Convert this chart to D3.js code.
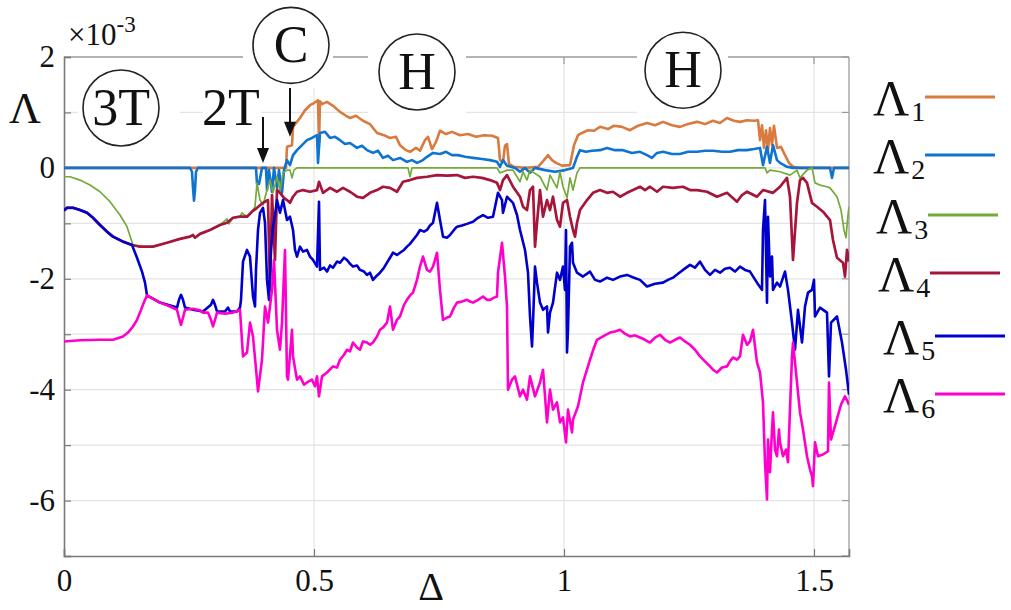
<!DOCTYPE html>
<html>
<head>
<meta charset="utf-8">
<script src="https://cdn.jsdelivr.net/npm/d3@7"></script>
<style>
  body { margin: 0; background: #fff; }
  svg { display: block; }
</style>
</head>
<body>
<div id="chart"></div>
<script>

// Lyapunov spectrum, Lambda (x 10^-3) against Delta
var L1 = [[0,0],[0.412,0],[0.444,0],[0.446,0.38],[0.456,0.41],[0.458,0.74],[0.472,0.90],[0.482,1.04],[0.492,1.13],[0.500,1.17],[0.508,1.22],[0.510,0.45],[0.512,1.20],[0.516,1.15],[0.526,1.19],[0.538,1.12],[0.552,1.01],[0.564,0.94],[0.572,0.90],[0.584,0.94],[0.598,0.85],[0.612,0.79],[0.626,0.63],[0.640,0.59],[0.652,0.54],[0.664,0.56],[0.672,0.41],[0.684,0.32],[0.692,0.29],[0.704,0.36],[0.712,0.31],[0.722,0.50],[0.728,0.56],[0.736,0.34],[0.744,0.47],[0.752,0.67],[0.764,0.61],[0.776,0.65],[0.792,0.59],[0.808,0.61],[0.824,0.56],[0.840,0.59],[0.856,0.58],[0.868,0.54],[0.872,0.14],[0.878,0.11],[0.882,0.40],[0.886,0.43],[0.890,0.07],[0.900,0.02],[0.922,0],[0.948,0.02],[0.960,0.14],[0.968,0.23],[0.976,0.14],[0.984,0.09],[0.996,0.04],[1.012,0.05],[1.020,0.41],[1.028,0.59],[1.036,0.63],[1.048,0.68],[1.060,0.67],[1.072,0.74],[1.088,0.70],[1.100,0.76],[1.116,0.74],[1.132,0.68],[1.148,0.76],[1.166,0.81],[1.182,0.77],[1.198,0.83],[1.216,0.77],[1.232,0.74],[1.248,0.79],[1.266,0.83],[1.282,0.79],[1.298,0.85],[1.312,0.81],[1.326,0.90],[1.340,0.85],[1.352,0.83],[1.366,0.86],[1.380,0.85],[1.388,0.86],[1.392,0.50],[1.396,0.77],[1.400,0.36],[1.404,0.68],[1.408,0.32],[1.412,0.72],[1.416,0.41],[1.420,0.76],[1.426,0.36],[1.434,0.38],[1.442,0.23],[1.450,0.09],[1.458,0.02],[1.472,0],[1.570,0]];

var L2 = [[0,0],[0.252,0],[0.256,-0.07],[0.258,-0.36],[0.260,-0.59],[0.262,-0.40],[0.264,-0.07],[0.268,0],[0.384,0],[0.386,-0.29],[0.390,-0.29],[0.396,0],[0.404,0],[0.406,-0.40],[0.410,-0.04],[0.416,-0.43],[0.420,0],[0.426,-0.36],[0.430,-0.04],[0.436,-0.45],[0.440,-0.04],[0.446,0.14],[0.452,0.05],[0.458,0.23],[0.466,0.32],[0.476,0.41],[0.486,0.50],[0.496,0.54],[0.506,0.59],[0.508,0.09],[0.512,0.63],[0.522,0.65],[0.532,0.54],[0.542,0.56],[0.552,0.50],[0.562,0.43],[0.572,0.45],[0.586,0.36],[0.596,0.40],[0.606,0.32],[0.618,0.27],[0.628,0.31],[0.638,0.18],[0.648,0.22],[0.658,0.14],[0.672,0.18],[0.686,0.11],[0.696,0.14],[0.706,0.09],[0.716,0.13],[0.726,0.20],[0.738,0.27],[0.752,0.25],[0.764,0.29],[0.776,0.23],[0.788,0.23],[0.802,0.20],[0.818,0.18],[0.836,0.16],[0.852,0.14],[0.866,0.11],[0.872,0.02],[0.878,0.14],[0.886,0.04],[0.902,0],[0.912,-0.07],[0.922,0],[0.932,-0.09],[0.942,0],[0.962,-0.04],[0.982,-0.07],[1.002,-0.04],[1.018,0],[1.026,0.20],[1.032,0.32],[1.044,0.29],[1.056,0.31],[1.072,0.32],[1.086,0.36],[1.102,0.32],[1.118,0.32],[1.136,0.27],[1.152,0.29],[1.166,0.23],[1.176,0.18],[1.186,0.27],[1.198,0.29],[1.216,0.25],[1.232,0.25],[1.248,0.29],[1.266,0.29],[1.282,0.31],[1.298,0.31],[1.316,0.29],[1.332,0.29],[1.348,0.32],[1.366,0.32],[1.380,0.34],[1.392,0.36],[1.398,0.05],[1.406,0.38],[1.412,0.09],[1.418,0.41],[1.426,0.14],[1.432,0.09],[1.446,0.02],[1.458,0],[1.532,0],[1.536,-0.18],[1.540,0],[1.570,0]];

var L3 = [[0,-0.16],[0.012,-0.16],[0.032,-0.22],[0.052,-0.31],[0.072,-0.43],[0.092,-0.61],[0.112,-0.85],[0.126,-1.06],[0.138,-1.39],[0.152,-1.42],[0.178,-1.42],[0.206,-1.35],[0.232,-1.28],[0.252,-1.24],[0.258,-1.21],[0.262,-1.26],[0.272,-1.19],[0.292,-1.12],[0.312,-1.03],[0.326,-0.92],[0.330,-1.01],[0.338,-0.90],[0.352,-0.88],[0.356,-0.81],[0.366,-0.88],[0.376,-0.79],[0.382,-0.70],[0.386,-0.27],[0.392,-0.58],[0.398,-0.67],[0.406,-0.40],[0.412,-0.22],[0.418,-0.45],[0.426,-0.16],[0.432,-0.40],[0.438,-0.09],[0.446,-0.04],[0.452,-0.04],[0.456,-0.18],[0.460,-0.04],[0.466,0],[0.688,0],[0.692,-0.16],[0.696,0],[0.866,0],[0.872,-0.09],[0.878,-0.07],[0.886,-0.04],[0.898,-0.04],[0.912,-0.25],[0.918,-0.07],[0.926,-0.22],[0.932,-0.04],[0.952,-0.16],[0.966,-0.40],[0.972,-0.13],[0.986,-0.36],[0.992,-0.07],[0.998,-0.34],[1.006,-0.54],[1.012,-0.18],[1.018,-0.40],[1.026,-0.09],[1.032,0],[1.402,0],[1.406,-0.09],[1.412,-0.04],[1.432,-0.07],[1.452,-0.13],[1.466,-0.04],[1.472,-0.18],[1.486,-0.04],[1.496,0],[1.502,-0.27],[1.512,-0.31],[1.526,-0.34],[1.532,-0.36],[1.546,-0.52],[1.554,-0.76],[1.560,-1.12],[1.564,-1.26],[1.568,-0.85],[1.570,-0.70]];

var L4 = [[0,-0.77],[0.006,-0.72],[0.018,-0.72],[0.032,-0.76],[0.046,-0.81],[0.058,-0.90],[0.072,-1.03],[0.086,-1.15],[0.098,-1.24],[0.118,-1.33],[0.136,-1.39],[0.152,-1.42],[0.178,-1.42],[0.206,-1.35],[0.232,-1.28],[0.252,-1.24],[0.258,-1.21],[0.262,-1.26],[0.272,-1.19],[0.292,-1.12],[0.312,-1.03],[0.326,-0.99],[0.338,-0.90],[0.352,-0.88],[0.366,-0.88],[0.376,-0.79],[0.386,-0.72],[0.398,-0.63],[0.408,-0.58],[0.412,-2.20],[0.416,-0.49],[0.422,-1.66],[0.426,-0.40],[0.432,-0.45],[0.440,-0.54],[0.446,-0.58],[0.452,-0.63],[0.458,-0.52],[0.466,-0.43],[0.478,-0.40],[0.492,-0.43],[0.506,-0.40],[0.510,-0.25],[0.518,-0.45],[0.532,-0.36],[0.546,-0.43],[0.558,-0.36],[0.572,-0.43],[0.586,-0.52],[0.598,-0.54],[0.612,-0.45],[0.626,-0.40],[0.638,-0.34],[0.652,-0.36],[0.666,-0.43],[0.678,-0.25],[0.692,-0.22],[0.706,-0.18],[0.726,-0.16],[0.746,-0.13],[0.766,-0.14],[0.786,-0.13],[0.802,-0.18],[0.818,-0.16],[0.836,-0.18],[0.852,-0.22],[0.866,-0.27],[0.872,-0.40],[0.878,-0.22],[0.886,-0.13],[0.898,-0.34],[0.912,-0.52],[0.918,-0.70],[0.926,-0.76],[0.932,-0.40],[0.938,-0.34],[0.942,-1.42],[0.946,-0.99],[0.952,-0.40],[0.958,-0.88],[0.966,-0.58],[0.972,-0.76],[0.978,-0.52],[0.986,-0.94],[0.992,-1.06],[0.998,-0.63],[1.006,-0.58],[1.012,-0.88],[1.018,-1.12],[1.022,-1.24],[1.026,-0.99],[1.032,-0.76],[1.046,-0.58],[1.058,-0.45],[1.072,-0.40],[1.086,-0.45],[1.098,-0.43],[1.112,-0.52],[1.126,-0.45],[1.138,-0.40],[1.152,-0.34],[1.162,-0.40],[1.172,-0.34],[1.186,-0.43],[1.198,-0.34],[1.218,-0.36],[1.238,-0.34],[1.252,-0.40],[1.266,-0.40],[1.286,-0.43],[1.306,-0.52],[1.326,-0.45],[1.346,-0.61],[1.356,-0.49],[1.366,-0.43],[1.386,-0.52],[1.398,-0.40],[1.418,-0.45],[1.432,-0.34],[1.446,-0.18],[1.452,-0.52],[1.458,-1.66],[1.466,-0.63],[1.472,-0.22],[1.478,-0.18],[1.486,-0.27],[1.496,-0.63],[1.506,-0.70],[1.518,-0.79],[1.532,-0.94],[1.538,-1.30],[1.546,-1.62],[1.558,-1.71],[1.562,-1.96],[1.566,-1.48],[1.570,-1.69]];

var L5 = [[0,-0.77],[0.006,-0.72],[0.018,-0.72],[0.032,-0.76],[0.046,-0.81],[0.058,-0.90],[0.072,-1.03],[0.086,-1.15],[0.098,-1.24],[0.118,-1.33],[0.136,-1.39],[0.146,-1.62],[0.156,-1.87],[0.162,-2.07],[0.166,-2.30],[0.192,-2.43],[0.226,-2.52],[0.230,-2.38],[0.234,-2.29],[0.238,-2.38],[0.242,-2.52],[0.258,-2.56],[0.278,-2.59],[0.294,-2.47],[0.298,-2.38],[0.302,-2.47],[0.306,-2.59],[0.322,-2.59],[0.328,-2.52],[0.332,-2.59],[0.346,-2.59],[0.352,-2.52],[0.354,-2.38],[0.358,-1.69],[0.366,-1.48],[0.372,-1.60],[0.378,-2.32],[0.382,-2.50],[0.384,-1.84],[0.388,-1.12],[0.392,-0.81],[0.398,-0.72],[0.402,-0.99],[0.406,-2.02],[0.410,-2.38],[0.414,-1.48],[0.418,-1.06],[0.422,-0.85],[0.426,-0.58],[0.432,-0.81],[0.438,-0.58],[0.446,-0.94],[0.452,-0.88],[0.458,-1.12],[0.462,-1.48],[0.466,-1.60],[0.472,-1.42],[0.478,-1.51],[0.486,-1.48],[0.492,-1.60],[0.498,-1.66],[0.506,-1.78],[0.510,-0.61],[0.512,-1.84],[0.520,-1.80],[0.526,-1.87],[0.532,-1.76],[0.538,-1.80],[0.546,-1.69],[0.552,-1.71],[0.560,-1.62],[0.566,-1.66],[0.572,-1.73],[0.578,-1.78],[0.586,-1.76],[0.592,-1.84],[0.600,-1.87],[0.606,-1.93],[0.612,-1.89],[0.618,-2.02],[0.626,-1.94],[0.632,-1.89],[0.640,-1.80],[0.646,-1.71],[0.652,-1.62],[0.658,-1.53],[0.666,-1.57],[0.672,-1.53],[0.680,-1.48],[0.686,-1.42],[0.692,-1.37],[0.698,-1.30],[0.706,-1.21],[0.712,-1.12],[0.720,-1.15],[0.726,-1.12],[0.732,-1.04],[0.738,-0.99],[0.746,-0.63],[0.752,-0.94],[0.758,-1.24],[0.766,-1.26],[0.772,-1.21],[0.780,-1.12],[0.786,-1.06],[0.796,-1.04],[0.806,-1.01],[0.818,-0.97],[0.828,-0.90],[0.838,-0.85],[0.848,-0.90],[0.858,-0.88],[0.868,-0.45],[0.876,-0.58],[0.878,-0.81],[0.886,-0.52],[0.898,-0.63],[0.906,-0.85],[0.912,-1.12],[0.922,-1.48],[0.928,-1.89],[0.932,-2.68],[0.936,-3.22],[0.938,-2.79],[0.942,-1.78],[0.946,-2.07],[0.952,-2.43],[0.958,-2.56],[0.966,-2.50],[0.968,-2.97],[0.972,-2.61],[0.978,-2.43],[0.986,-1.89],[0.992,-2.02],[0.998,-1.78],[1.002,-2.20],[1.004,-1.12],[1.006,-3.33],[1.008,-2.92],[1.012,-1.42],[1.016,-1.35],[1.018,-1.71],[1.026,-1.89],[1.038,-1.96],[1.052,-1.87],[1.062,-2.02],[1.072,-2.05],[1.086,-1.98],[1.098,-2.02],[1.112,-1.96],[1.126,-1.93],[1.140,-1.98],[1.152,-2.02],[1.166,-2.14],[1.182,-2.09],[1.198,-2.07],[1.208,-2.02],[1.218,-1.98],[1.228,-1.91],[1.238,-1.84],[1.252,-1.75],[1.262,-1.80],[1.272,-1.69],[1.282,-1.84],[1.292,-1.93],[1.302,-1.84],[1.312,-1.89],[1.322,-1.82],[1.332,-1.80],[1.342,-1.87],[1.352,-1.78],[1.362,-1.84],[1.372,-1.87],[1.386,-2.07],[1.396,-2.20],[1.398,-1.12],[1.402,-0.58],[1.406,-2.43],[1.408,-0.88],[1.412,-1.96],[1.416,-1.60],[1.418,-2.20],[1.426,-2.07],[1.432,-2.14],[1.442,-1.87],[1.448,-2.20],[1.456,-2.79],[1.462,-3.28],[1.468,-2.56],[1.476,-3.15],[1.482,-2.50],[1.488,-2.25],[1.496,-2.20],[1.500,-2.02],[1.502,-2.68],[1.512,-2.52],[1.526,-2.61],[1.530,-3.76],[1.534,-2.79],[1.546,-2.68],[1.556,-3.15],[1.564,-3.64],[1.570,-4.09]];

var L6 = [[0,-3.13],[0.032,-3.11],[0.072,-3.10],[0.098,-3.10],[0.118,-3.04],[0.128,-2.97],[0.138,-2.86],[0.146,-2.74],[0.152,-2.61],[0.158,-2.47],[0.162,-2.38],[0.166,-2.30],[0.192,-2.43],[0.212,-2.50],[0.226,-2.56],[0.230,-2.70],[0.234,-2.83],[0.238,-2.70],[0.242,-2.56],[0.258,-2.54],[0.272,-2.57],[0.278,-2.61],[0.288,-2.61],[0.294,-2.74],[0.298,-2.86],[0.302,-2.74],[0.306,-2.61],[0.322,-2.63],[0.338,-2.61],[0.352,-2.56],[0.358,-3.40],[0.366,-3.33],[0.372,-2.79],[0.378,-3.04],[0.386,-3.82],[0.388,-4.03],[0.396,-3.46],[0.402,-2.50],[0.408,-2.79],[0.416,-2.20],[0.420,-1.66],[0.426,-2.92],[0.432,-3.28],[0.436,-2.79],[0.442,-1.48],[0.446,-3.76],[0.448,-3.82],[0.456,-2.92],[0.458,-3.40],[0.466,-3.82],[0.472,-3.76],[0.480,-3.91],[0.486,-3.87],[0.496,-3.82],[0.502,-3.94],[0.506,-3.76],[0.510,-4.12],[0.516,-3.76],[0.526,-3.69],[0.538,-3.58],[0.546,-3.60],[0.552,-3.46],[0.560,-3.37],[0.566,-3.28],[0.572,-3.31],[0.578,-3.15],[0.586,-3.24],[0.592,-3.28],[0.598,-3.13],[0.606,-3.15],[0.612,-3.19],[0.618,-3.15],[0.626,-3.04],[0.632,-2.92],[0.638,-2.88],[0.646,-2.79],[0.652,-2.50],[0.658,-2.92],[0.666,-2.74],[0.672,-2.68],[0.680,-2.47],[0.686,-2.38],[0.692,-2.30],[0.698,-2.25],[0.706,-2.02],[0.712,-1.78],[0.718,-1.60],[0.726,-1.84],[0.732,-1.87],[0.738,-1.78],[0.742,-1.66],[0.746,-1.53],[0.752,-2.20],[0.758,-2.74],[0.766,-2.70],[0.772,-2.68],[0.780,-2.52],[0.786,-2.43],[0.796,-2.41],[0.806,-2.38],[0.812,-2.41],[0.818,-2.43],[0.828,-2.38],[0.838,-2.32],[0.846,-2.38],[0.852,-2.38],[0.860,-2.34],[0.866,-2.32],[0.868,-1.89],[0.876,-1.35],[0.882,-1.96],[0.886,-2.50],[0.888,-4.00],[0.896,-3.82],[0.902,-3.76],[0.912,-4.12],[0.918,-4.00],[0.926,-4.18],[0.932,-3.76],[0.942,-4.12],[0.952,-3.87],[0.958,-3.64],[0.966,-4.59],[0.972,-4.00],[0.978,-4.36],[0.986,-4.23],[0.992,-4.59],[0.998,-4.50],[1.004,-4.95],[1.008,-4.36],[1.016,-4.77],[1.018,-4.54],[1.028,-4.30],[1.038,-3.87],[1.046,-3.64],[1.052,-3.46],[1.060,-3.24],[1.066,-3.10],[1.078,-3.04],[1.092,-2.97],[1.102,-2.95],[1.112,-2.92],[1.122,-2.99],[1.132,-3.04],[1.142,-3.02],[1.152,-3.06],[1.162,-3.10],[1.172,-3.15],[1.182,-3.06],[1.192,-3.01],[1.202,-3.10],[1.212,-3.15],[1.222,-3.10],[1.232,-3.06],[1.242,-3.13],[1.252,-3.19],[1.262,-3.28],[1.272,-3.40],[1.282,-3.49],[1.292,-3.58],[1.298,-3.64],[1.306,-3.69],[1.316,-3.60],[1.326,-3.58],[1.332,-3.49],[1.338,-3.42],[1.346,-3.46],[1.352,-3.40],[1.358,-3.01],[1.366,-3.19],[1.372,-3.13],[1.378,-2.92],[1.386,-3.51],[1.392,-3.69],[1.398,-4.23],[1.402,-5.31],[1.406,-5.98],[1.408,-4.90],[1.412,-5.49],[1.416,-4.72],[1.418,-4.41],[1.422,-5.08],[1.426,-5.20],[1.430,-4.72],[1.432,-4.95],[1.438,-5.20],[1.444,-5.08],[1.448,-5.31],[1.456,-3.40],[1.458,-3.15],[1.466,-3.87],[1.472,-4.41],[1.478,-4.72],[1.486,-5.20],[1.492,-5.44],[1.496,-5.56],[1.498,-5.74],[1.502,-4.95],[1.508,-5.20],[1.518,-5.17],[1.528,-5.11],[1.530,-3.87],[1.534,-4.90],[1.544,-4.59],[1.554,-4.27],[1.562,-4.12],[1.568,-4.23],[1.570,-4.27]];

var yTicks = [-7, -6, -5, -4, -3, -2, -1, 0, 1, 2];
var yLabels = [-6, -4, -2, 0, 2];
var xTicks = [0, 0.5, 1, 1.5];
var xLabels = ["0", "0.5", "1", "1.5"];
var subs = ["1", "2", "3", "4", "5", "6"];
var colors = ["#d97a3e", "#0f74d0", "#74aa3a", "#a5163a", "#0000cd", "#ff00cc"];
var widths = [2.6, 2.6, 1.7, 2.7, 2.6, 2.6];

// regime labels: [text, Delta, Lambda] (circle centres)
var regimes = [["3T", 0.114, 1.08], ["C", 0.454, 2.21], ["H", 0.706, 1.73], ["H", 1.238, 1.76]];

// a single family: a fallback list picks a sans face here
var FONT = "'Liberation Serif'";
var width = 1011, height = 610;
var margin = {left: 64, right: 162, top: 57, bottom: 54};

var x = d3.scaleLinear().domain([0, 1.57]).range([margin.left, width - margin.right]);
var y = d3.scaleLinear().domain([-7, 2]).range([height - margin.bottom, margin.top]);

var svg = d3.select("#chart").append("svg")
    .attr("width", width)
    .attr("height", height);

svg.append("defs").append("clipPath").attr("id", "plot")
  .append("rect")
    .attr("x", x(0)).attr("y", y(2))
    .attr("width", x(1.57) - x(0)).attr("height", y(-7) - y(2));

// grid
svg.append("g").selectAll("line")
    .data(yTicks.slice(1, -1))
  .enter().append("line")
    .attr("x1", x(0)).attr("x2", x(1.57))
    .attr("y1", function(d) { return y(d); })
    .attr("y2", function(d) { return y(d); })
    .attr("stroke", "#e4e4e4").attr("stroke-width", 1.2);

svg.append("g").selectAll("line")
    .data(xTicks.slice(1))
  .enter().append("line")
    .attr("x1", function(d) { return x(d); })
    .attr("x2", function(d) { return x(d); })
    .attr("y1", y(2)).attr("y2", y(-7))
    .attr("stroke", "#e4e4e4").attr("stroke-width", 1.2);

// box: top and right first, lighter
svg.append("line")
    .attr("x1", x(0)).attr("x2", x(1.57)).attr("y1", y(2)).attr("y2", y(2))
    .attr("stroke", "#9a9a9a").attr("stroke-width", 1.3);
svg.append("line")
    .attr("x1", x(1.57)).attr("x2", x(1.57)).attr("y1", y(2)).attr("y2", y(-7))
    .attr("stroke", "#9a9a9a").attr("stroke-width", 1.3);

svg.append("g").selectAll("line")
    .data(yTicks)
  .enter().append("line")
    .attr("x1", x(1.57)).attr("x2", x(1.57) - 7)
    .attr("y1", function(d) { return y(d); })
    .attr("y2", function(d) { return y(d); })
    .attr("stroke", "#9a9a9a").attr("stroke-width", 1.2);

svg.append("g").selectAll("line")
    .data(xTicks.slice(1))
  .enter().append("line")
    .attr("x1", function(d) { return x(d); })
    .attr("x2", function(d) { return x(d); })
    .attr("y1", y(2)).attr("y2", y(2) + 7)
    .attr("stroke", "#9a9a9a").attr("stroke-width", 1.2);

var yAxis = svg.append("g")
    .attr("transform", "translate(" + x(0) + ",0)")
    .call(d3.axisLeft(y)
      .tickValues(yTicks)
      .tickSize(-7)
      .tickPadding(9)
      .tickFormat(function(d) { return yLabels.indexOf(d) >= 0 ? String(d) : ""; }));

var xAxis = svg.append("g")
    .attr("transform", "translate(0," + y(-7) + ")")
    .call(d3.axisBottom(x)
      .tickValues(xTicks)
      .tickSize(-7)
      .tickPadding(13)
      .tickFormat(function(d, i) { return xLabels[i]; }));

[yAxis, xAxis].forEach(function(g) {
  g.attr("font-family", FONT).attr("font-size", 31);
  g.select(".domain").attr("stroke", "#7a7a7a").attr("stroke-width", 1.6);
  g.selectAll(".tick line").attr("stroke", "#7a7a7a").attr("stroke-width", 1.2);
  g.selectAll(".tick text")
      .attr("fill", "#111")
      .style("font-family", FONT)
      .style("font-size", "31px");
});

// white patches behind the regime labels
var patches = [[78, 62, 102, 92], [243, 0, 90, 88], [368, 28, 98, 88], [637, 25, 91, 91], [203, 86, 58, 44]];
svg.append("g").selectAll("rect")
    .data(patches)
  .enter().append("rect")
    .attr("x", function(d) { return d[0]; })
    .attr("y", function(d) { return d[1]; })
    .attr("width", function(d) { return d[2]; })
    .attr("height", function(d) { return d[3]; })
    .attr("fill", "#fff");

// curves
var line = d3.line()
    .x(function(d) { return x(d[0]); })
    .y(function(d) { return y(d[1]); });

var curves = svg.append("g").attr("clip-path", "url(#plot)");
[L1, L2, L3, L4, L5, L6].forEach(function(data, i) {
  curves.append("path")
      .datum(data)
      .attr("fill", "none")
      .attr("stroke", colors[i])
      .attr("stroke-width", widths[i])
      .attr("stroke-linejoin", "round")
      .attr("d", line);
});

// regime circles
var reg = svg.append("g").selectAll("g")
    .data(regimes)
  .enter().append("g")
    .attr("transform", function(d) { return "translate(" + x(d[1]) + "," + y(d[2]) + ")"; });

reg.append("circle")
    .attr("r", 38)
    .attr("fill", "#fff")
    .attr("stroke", "#222")
    .attr("stroke-width", 1.6);

reg.append("text")
    .attr("text-anchor", "middle")
    .attr("y", 17)
    .style("font-family", FONT)
    .style("font-size", "52px")
    .attr("fill", "#111")
    .text(function(d) { return d[0]; });

svg.append("text")
    .attr("x", 202).attr("y", 125)
    .style("font-family", FONT)
    .style("font-size", "52px")
    .attr("fill", "#111")
    .text("2T");

// arrows to the 2T and C onsets
var arrows = [[0.398, 0.92, 0.09], [0.452, 1.44, 0.56]];
arrows.forEach(function(a) {
  var ax = x(a[0]), y0 = y(a[1]), y1 = y(a[2]);
  svg.append("line")
      .attr("x1", ax).attr("x2", ax)
      .attr("y1", y0).attr("y2", y1 - 10)
      .attr("stroke", "#111").attr("stroke-width", 2);
  svg.append("path")
      .attr("d", "M" + (ax - 6) + "," + (y1 - 15) + "L" + (ax + 6) + "," + (y1 - 15) + "L" + ax + "," + y1 + "Z")
      .attr("fill", "#111");
});

// axis labels
svg.append("text")
    .attr("x", 9).attr("y", 123)
    .style("font-family", FONT)
    .style("font-size", "44px")
    .attr("fill", "#111")
    .text("Λ");

svg.append("text")
    .attr("x", 431).attr("y", 600)
    .attr("text-anchor", "middle")
    .style("font-family", FONT)
    .style("font-size", "40px")
    .attr("fill", "#111")
    .text("Δ");

var expo = svg.append("text")
    .attr("x", 68).attr("y", 45)
    .style("font-family", FONT)
    .attr("fill", "#111");
expo.append("tspan").style("font-size", "31px").text("×10");
expo.append("tspan").attr("dy", -13).style("font-size", "23px").text("-3");

// legend
var legY = [97, 155, 215, 273, 336, 394];
var legX = [873, 873, 876, 878, 883, 883];
var leg = svg.append("g").selectAll("g")
    .data(subs)
  .enter().append("g");

leg.append("text")
    .attr("x", function(d, i) { return legX[i]; })
    .attr("y", function(d, i) { return legY[i] + 18; })
    .style("font-family", FONT)
    .attr("fill", "#111")
    .each(function(d) {
      var t = d3.select(this);
      t.append("tspan").style("font-size", "50px").text("Λ");
      t.append("tspan").attr("dy", 6).attr("dx", 2).style("font-size", "28px").text(d);
    });

leg.append("line")
    .attr("x1", function(d, i) { return legX[i] + 52; })
    .attr("x2", function(d, i) { return legX[i] + 122; })
    .attr("y1", function(d, i) { return legY[i]; })
    .attr("y2", function(d, i) { return legY[i]; })
    .attr("stroke", function(d, i) { return colors[i]; })
    .attr("stroke-width", 3);

</script>
</body>
</html>
